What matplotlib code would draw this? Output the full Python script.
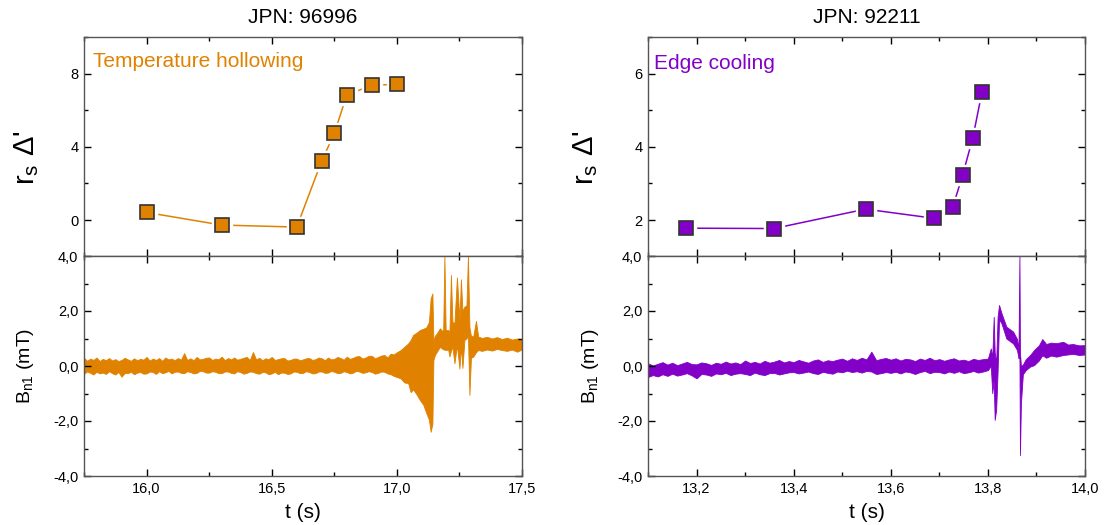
import matplotlib
matplotlib.use('Agg')
import matplotlib.pyplot as plt
from matplotlib.ticker import MultipleLocator, FuncFormatter

plt.rcParams['font.family'] = ['Liberation Sans', 'DejaVu Sans']
plt.rcParams['mathtext.fontset'] = 'custom'
plt.rcParams['mathtext.rm'] = 'Liberation Sans'

ORANGE = '#E08200'
PURPLE = '#8200C8'

# ---- JPN 96996 : r_s Delta' points ----
t_a = [16.0, 16.3, 16.6, 16.7, 16.75, 16.8, 16.9, 17.0]
d_a = [0.42, -0.27, -0.38, 3.24, 4.73, 6.84, 7.36, 7.42]

# ---- JPN 92211 : r_s Delta' points ----
t_b = [13.179, 13.359, 13.548, 13.689, 13.728, 13.748, 13.769, 13.788]
d_b = [1.78, 1.77, 2.30, 2.05, 2.37, 3.23, 4.25, 5.51]

# ---- B_n1 trace JPN 96996 (read as upper / lower envelope) ----
bt_a = [15.7500, 15.7625, 15.7750, 15.7875, 15.8000, 15.8125, 15.8250, 15.8375, 15.8500, 15.8625,
        15.8750, 15.8875, 15.9000, 15.9125, 15.9250, 15.9375, 15.9500, 15.9625, 15.9750, 15.9875,
        16.0000, 16.0125, 16.0250, 16.0375, 16.0500, 16.0625, 16.0750, 16.0875, 16.1000, 16.1125,
        16.1250, 16.1375, 16.1500, 16.1625, 16.1750, 16.1875, 16.2000, 16.2125, 16.2250, 16.2375,
        16.2500, 16.2625, 16.2750, 16.2875, 16.3000, 16.3125, 16.3250, 16.3375, 16.3500, 16.3625,
        16.3750, 16.3875, 16.4000, 16.4125, 16.4250, 16.4375, 16.4500, 16.4625, 16.4750, 16.4875,
        16.5000, 16.5125, 16.5250, 16.5375, 16.5500, 16.5625, 16.5750, 16.5875, 16.6000, 16.6125,
        16.6250, 16.6375, 16.6500, 16.6625, 16.6750, 16.6875, 16.7000, 16.7125, 16.7250, 16.7375,
        16.7500, 16.7625, 16.7750, 16.7875, 16.8000, 16.8125, 16.8250, 16.8375, 16.8500, 16.8625,
        16.8750, 16.8875, 16.9000, 16.9125, 16.9250, 16.9375, 16.9500, 16.9625, 16.9750, 16.9875,
        17.000, 17.015, 17.030, 17.045, 17.055, 17.065, 17.080, 17.092, 17.105, 17.118,
        17.128, 17.135, 17.142, 17.146, 17.152, 17.160, 17.172, 17.185, 17.190, 17.195,
        17.205, 17.210, 17.216, 17.222, 17.230, 17.240, 17.250, 17.256, 17.262, 17.270,
        17.278, 17.284, 17.290, 17.296, 17.305, 17.316, 17.325, 17.340, 17.360, 17.380,
        17.400, 17.420, 17.440, 17.460, 17.480, 17.500]
hi_a = [0.30, 0.19, 0.27, 0.22, 0.31, 0.18, 0.26, 0.21, 0.29, 0.20,
        0.25, 0.18, 0.22, 0.30, 0.24, 0.19, 0.28, 0.21, 0.26, 0.23,
        0.33, 0.20, 0.27, 0.22, 0.29, 0.19, 0.31, 0.24, 0.27, 0.21,
        0.29, 0.23, 0.47, 0.22, 0.28, 0.21, 0.33, 0.24, 0.26, 0.30,
        0.31, 0.22, 0.27, 0.25, 0.34, 0.21, 0.29, 0.24, 0.31, 0.23,
        0.26, 0.30, 0.33, 0.22, 0.51, 0.24, 0.30, 0.21, 0.28, 0.25,
        0.33, 0.22, 0.25, 0.28, 0.29, 0.20, 0.22, 0.27, 0.27, 0.21,
        0.24, 0.28, 0.29, 0.22, 0.25, 0.31, 0.28, 0.21, 0.31, 0.24,
        0.26, 0.33, 0.29, 0.23, 0.34, 0.26, 0.30, 0.35, 0.36, 0.27,
        0.31, 0.37, 0.37, 0.28, 0.33, 0.38, 0.40, 0.31, 0.45, 0.42,
        0.50, 0.58, 0.70, 0.82, 0.95, 1.13, 1.22, 1.31, 1.35, 1.41,
        1.60, 2.46, 2.64, 0.90, 1.10, 1.19, 1.37, 1.25, 4.00, 1.30,
        1.31, 1.20, 3.31, 1.61, 1.55, 3.22, 1.70, 3.15, 2.00, 2.16,
        2.20, 4.00, 1.40, 1.10, 1.07, 1.64, 1.07, 1.02, 1.06, 1.00,
        1.05, 0.98, 1.03, 0.96, 1.00, 0.98]
lo_a = [-0.28, -0.20, -0.25, -0.31, -0.21, -0.27, -0.24, -0.29, -0.19, -0.26,
        -0.31, -0.22, -0.39, -0.25, -0.26, -0.21, -0.30, -0.24, -0.22, -0.28,
        -0.27, -0.20, -0.22, -0.29, -0.19, -0.26, -0.23, -0.18, -0.27, -0.21,
        -0.20, -0.25, -0.26, -0.19, -0.22, -0.27, -0.25, -0.18, -0.19, -0.24,
        -0.24, -0.19, -0.21, -0.26, -0.26, -0.20, -0.20, -0.25, -0.27, -0.19,
        -0.22, -0.28, -0.25, -0.20, -0.21, -0.26, -0.28, -0.22, -0.23, -0.30,
        -0.27, -0.21, -0.30, -0.24, -0.24, -0.29, -0.27, -0.20, -0.21, -0.26,
        -0.25, -0.19, -0.22, -0.27, -0.26, -0.20, -0.20, -0.25, -0.24, -0.18,
        -0.21, -0.26, -0.25, -0.19, -0.22, -0.27, -0.24, -0.18, -0.20, -0.25,
        -0.23, -0.19, -0.22, -0.28, -0.25, -0.20, -0.21, -0.27, -0.30, -0.36,
        -0.40, -0.45, -0.60, -0.62, -0.95, -0.85, -1.05, -1.24, -1.40, -1.72,
        -1.95, -2.39, -2.10, 0.22, 0.40, 0.52, 0.70, 0.60, 0.60, 0.58,
        0.60, 0.35, 0.55, 0.70, 0.10, 0.75, -0.09, 0.70, -0.07, 0.95,
        1.00, 1.10, -1.05, 0.30, 0.34, 0.50, 0.58, 0.55, 0.60, 0.56,
        0.62, 0.58, 0.55, 0.60, 0.52, 0.60]

# ---- B_n1 trace JPN 92211 ----
bt_b = [13.10, 13.11, 13.12, 13.13, 13.14, 13.15, 13.16, 13.17, 13.18, 13.19,
        13.20, 13.21, 13.22, 13.23, 13.24, 13.25, 13.26, 13.27, 13.28, 13.29,
        13.30, 13.31, 13.32, 13.33, 13.34, 13.35, 13.36, 13.37, 13.38, 13.39,
        13.40, 13.41, 13.42, 13.43, 13.44, 13.45, 13.46, 13.47, 13.48, 13.49,
        13.50, 13.51, 13.52, 13.53, 13.54, 13.55, 13.56, 13.57, 13.58, 13.59,
        13.60, 13.61, 13.62, 13.63, 13.64, 13.65, 13.66, 13.67, 13.68, 13.69,
        13.70, 13.71, 13.72, 13.73, 13.74, 13.75, 13.76, 13.77, 13.78, 13.79,
        13.800, 13.806, 13.809, 13.812, 13.814,
        13.817, 13.820, 13.823, 13.828, 13.838, 13.852, 13.860, 13.863, 13.865, 13.866,
        13.868, 13.872, 13.878, 13.887, 13.895, 13.905, 13.912, 13.920, 13.930, 13.941,
        13.955, 13.965, 13.975, 13.988, 14.000]
hi_b = [0.10, 0.02, 0.08, 0.14, 0.05, 0.12, 0.03, 0.09, 0.15, 0.07,
        0.06, 0.13, 0.10, 0.04, 0.12, 0.08, 0.16, 0.09, 0.13, 0.07,
        0.20, 0.11, 0.15, 0.09, 0.19, 0.12, 0.16, 0.22, 0.13, 0.18,
        0.14, 0.22, 0.17, 0.12, 0.20, 0.24, 0.15, 0.21, 0.18, 0.23,
        0.27, 0.19, 0.28, 0.22, 0.30, 0.24, 0.52, 0.21, 0.26, 0.29,
        0.23, 0.28, 0.20, 0.26, 0.24, 0.18, 0.27, 0.22, 0.30, 0.21,
        0.25, 0.19, 0.24, 0.28, 0.20, 0.23, 0.18, 0.26, 0.22, 0.25,
        0.27, 0.64, 0.30, 1.79, 0.50,
        0.10, 1.79, 2.22, 1.92, 1.43, 1.25, 0.98, 0.60, 4.00, 0.50,
        0.00, 0.05, 0.25, 0.40, 0.58, 0.75, 0.98, 0.80, 0.85, 0.83,
        0.88, 0.78, 0.80, 0.75, 0.76]
lo_b = [-0.40, -0.33, -0.38, -0.30, -0.36, -0.28, -0.35, -0.31, -0.26, -0.34,
        -0.45, -0.29, -0.31, -0.36, -0.27, -0.30, -0.25, -0.33, -0.28, -0.26,
        -0.29, -0.33, -0.24, -0.30, -0.33, -0.26, -0.25, -0.31, -0.27, -0.23,
        -0.22, -0.27, -0.24, -0.20, -0.26, -0.29, -0.21, -0.25, -0.28, -0.20,
        -0.23, -0.17, -0.22, -0.19, -0.24, -0.18, -0.20, -0.29, -0.26, -0.22,
        -0.25, -0.21, -0.27, -0.20, -0.23, -0.29, -0.22, -0.18, -0.26, -0.21,
        -0.22, -0.27, -0.20, -0.25, -0.19, -0.26, -0.23, -0.18, -0.24, -0.20,
        -0.15, 0.00, -0.99, -0.50, -1.96,
        -1.60, -0.20, 1.70, 1.55, 1.00, 0.82, 0.58, 0.28, 0.30, -3.24,
        -1.36, -0.30, -0.15, -0.02, 0.03, 0.20, 0.39, 0.30, 0.38, 0.34,
        0.40, 0.42, 0.44, 0.40, 0.42]

comma = FuncFormatter(lambda v, p: ('%.1f' % v).replace('.', ','))


def style(ax):
    ax.tick_params(which='both', direction='in', top=True, right=True,
                   labelsize=10.5, colors='black', pad=4)
    ax.tick_params(which='major', length=5, width=1)
    ax.tick_params(which='minor', length=3, width=1)
    for s in ax.spines.values():
        s.set_color('#555555')
        s.set_linewidth(1)


fig = plt.figure(figsize=(11.04, 5.25), dpi=100)

cols = [
    dict(left=84, width=438, title='JPN: 96996', col=ORANGE, t=t_a, d=d_a,
         bt=bt_a, hi=hi_a, lo=lo_a, xlim=(15.75, 17.5), xmaj=0.5, xmin=0.25,
         ylim=(-1.96, 10), ymaj=4, ymin=2, label='Temperature hollowing',
         lx=0.021, ly=0.89, tlab=-0.098, blab=-0.11),
    dict(left=648, width=437, title='JPN: 92211', col=PURPLE, t=t_b, d=d_b,
         bt=bt_b, hi=hi_b, lo=lo_b, xlim=(13.1, 14.0), xmaj=0.2, xmin=0.1,
         ylim=(1.02, 7), ymaj=2, ymin=1, label='Edge cooling',
         lx=0.014, ly=0.88, tlab=-0.11, blab=-0.108),
]

W, H = 1104.0, 525.0
for c in cols:
    ax_top = fig.add_axes([c['left'] / W, 1 - 256 / H, c['width'] / W, 219 / H])
    ax_bot = fig.add_axes([c['left'] / W, 1 - 476 / H, c['width'] / W, 220 / H],
                          sharex=ax_top)

    # top: r_s Delta'
    ax_top.plot(c['t'], c['d'], '-', color=c['col'], lw=1.1, zorder=2)
    ax_top.plot(c['t'], c['d'], 's', ms=14, color='white', mec='white', zorder=3)
    ax_top.plot(c['t'], c['d'], 's', ms=9.5, color=c['col'], mec='#333333',
                mew=1.2, zorder=4)
    ax_top.set_ylim(*c['ylim'])
    ax_top.yaxis.set_major_locator(MultipleLocator(c['ymaj']))
    ax_top.yaxis.set_minor_locator(MultipleLocator(c['ymin']))
    ax_top.yaxis.set_major_formatter(FuncFormatter(lambda v, p: '%d' % round(v)))
    ax_top.tick_params(labelbottom=False)
    ax_top.set_ylabel("r$_\\mathregular{s}$ Δ'", fontsize=21)
    ax_top.yaxis.set_label_coords(c['tlab'], 0.45)
    ax_top.set_title(c['title'], fontsize=15, pad=10)
    ax_top.text(c['lx'], c['ly'], c['label'], transform=ax_top.transAxes,
                color=c['col'], fontsize=15, va='center', ha='left')
    style(ax_top)

    # bottom: B_n1 trace
    ax_bot.fill_between(c['bt'], c['lo'], c['hi'], color=c['col'],
                        edgecolor=c['col'], lw=0.6)
    ax_bot.set_xlim(*c['xlim'])
    ax_bot.set_ylim(-4, 4)
    ax_bot.xaxis.set_major_locator(MultipleLocator(c['xmaj']))
    ax_bot.xaxis.set_minor_locator(MultipleLocator(c['xmin']))
    ax_bot.yaxis.set_major_locator(MultipleLocator(2))
    ax_bot.yaxis.set_minor_locator(MultipleLocator(1))
    ax_bot.xaxis.set_major_formatter(comma)
    ax_bot.yaxis.set_major_formatter(comma)
    ax_bot.set_xlabel('t (s)', fontsize=15, labelpad=5)
    ax_bot.set_ylabel('B$_\\mathregular{n1}$ (mT)', fontsize=14)
    ax_bot.yaxis.set_label_coords(c['blab'], 0.5)
    style(ax_bot)

fig.savefig('out.png', dpi=100)
